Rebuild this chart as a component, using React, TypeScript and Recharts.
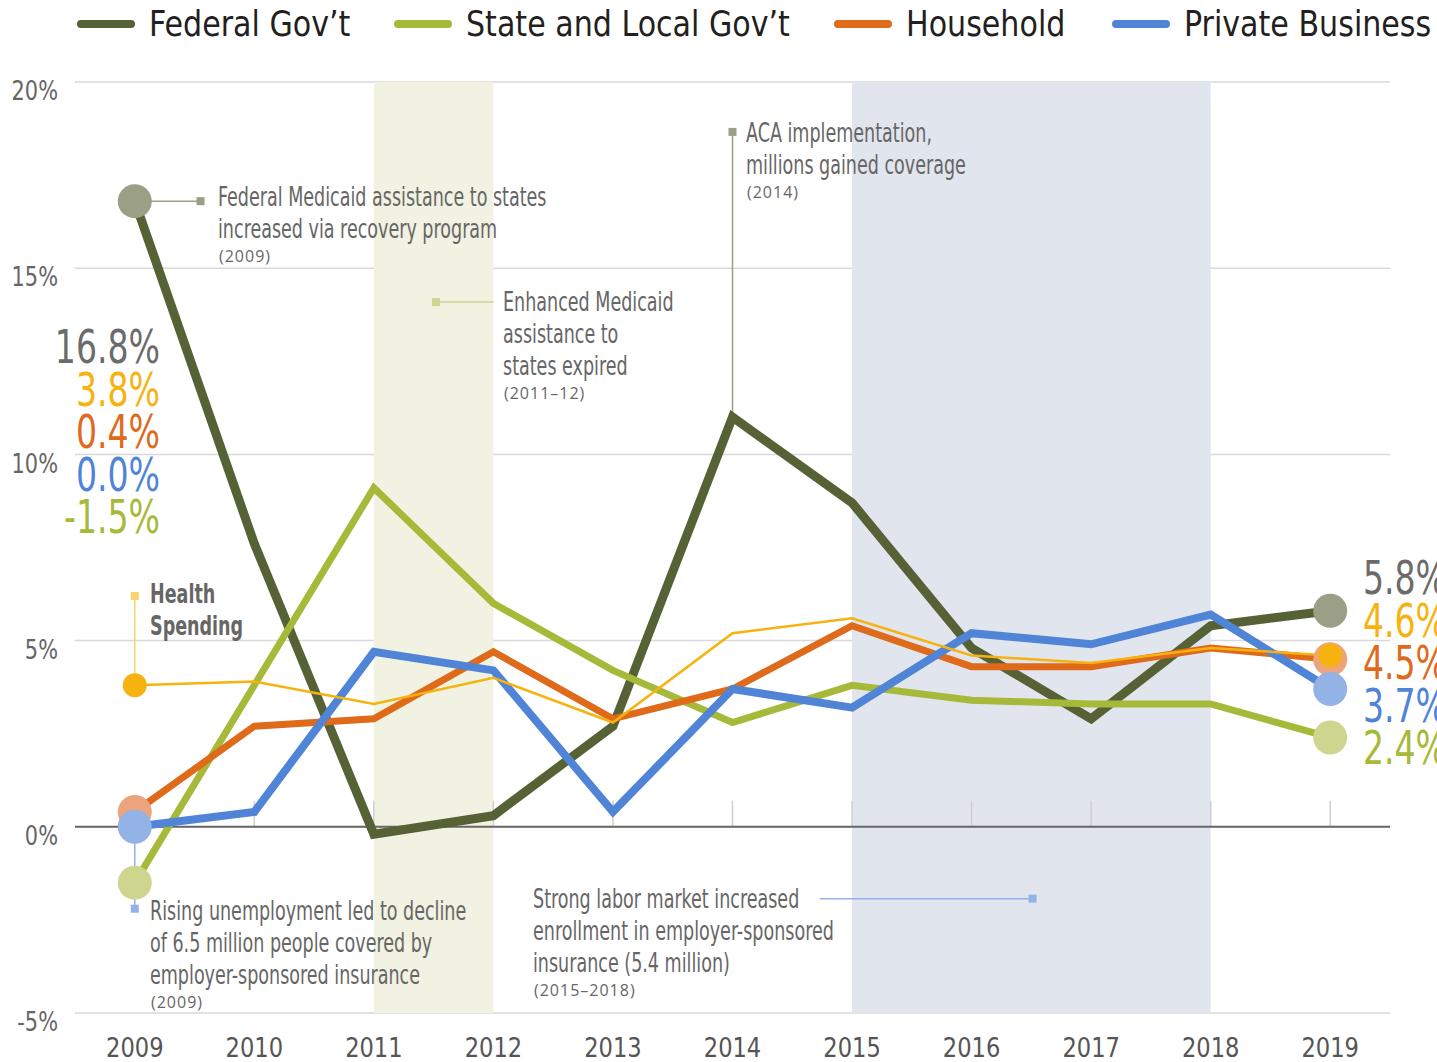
import React from 'react';
import {
  LineChart,
  Line,
  XAxis,
  YAxis,
  CartesianGrid,
  ReferenceArea,
  ReferenceLine,
  ReferenceDot,
} from 'recharts';

// annual growth of health spending by sponsor, 2009-2019 (%)
const years = [2009, 2010, 2011, 2012, 2013, 2014, 2015, 2016, 2017, 2018, 2019];
const federal = [16.8, 7.6, -0.2, 0.3, 2.7, 11.0, 8.7, 4.8, 2.9, 5.4, 5.8];
const stateLocal = [-1.5, 3.8, 9.1, 6.0, 4.2, 2.8, 3.8, 3.4, 3.3, 3.3, 2.4];
const household = [0.4, 2.7, 2.9, 4.7, 2.9, 3.7, 5.4, 4.3, 4.3, 4.8, 4.5];
const privateBiz = [0.0, 0.4, 4.7, 4.2, 0.4, 3.7, 3.2, 5.2, 4.9, 5.7, 3.7];
const healthSpending = [3.8, 3.9, 3.3, 4.0, 2.8, 5.2, 5.6, 4.6, 4.4, 4.8, 4.6];
const yTicks = [-5, 0, 5, 10, 15, 20];

const FONT = "'Liberation Sans Narrow', 'DejaVu Sans Condensed', 'Open Sans', sans-serif";
const TEXT = '#666666';

const series = [
  { key: 'federal', name: 'Federal Gov’t', values: federal, stroke: '#566236', dot: '#9a9f86', width: 9 },
  { key: 'state', name: 'State and Local Gov’t', values: stateLocal, stroke: '#a6b939', dot: '#cdd58e', width: 7 },
  { key: 'household', name: 'Household', values: household, stroke: '#de6a1a', dot: '#eba47c', width: 7 },
  { key: 'private', name: 'Private Business', values: privateBiz, stroke: '#4f84d6', dot: '#93b2e5', width: 8 },
];
const health = { key: 'health', values: healthSpending, stroke: '#f6b30f' };

const rows = years.map((year, i) => ({
  year,
  federal: federal[i],
  state: stateLocal[i],
  household: household[i],
  private: privateBiz[i],
  health: healthSpending[i],
}));

const last = years.length - 1;

// squeezed text, the available sans fonts are wider than the original condensed face
const SText = ({ x, y, sx = 0.76, anchor = 'start', size, fill, weight = 400, children, family = FONT }: any) => (
  <g transform={`translate(${x},${y}) scale(${sx},1)`}>
    <text x={0} y={0} textAnchor={anchor} dominantBaseline="central" fontFamily={family} fontSize={size} fontWeight={weight} fill={fill}>
      {children}
    </text>
  </g>
);

const endDot = (fill: string, r: number) => (props: any) => {
  const { cx, cy, index } = props;
  if (index !== 0 && index !== last) return <g key={`d-${index}`} />;
  return <circle key={`d-${index}`} cx={cx} cy={cy} r={r} fill={fill} />;
};

const square = (fill: string) => (props: any) => (
  <rect x={props.cx - 4} y={props.cy - 4} width={8} height={8} fill={fill} />
);

const XTick = (props: any) => {
  const { x, y, payload } = props;
  return (
    <SText x={x} y={y + 33} sx={0.93} anchor="middle" size={27} fill="#555">
      {payload.value}
    </SText>
  );
};

const YTick = (props: any) => {
  const { x, y, payload } = props;
  return (
    <SText x={x - 15} y={y + 9} sx={0.86} anchor="end" size={27} fill={TEXT}>
      {payload.value}%
    </SText>
  );
};

// value labels at both ends, sorted high to low
const startLabels = [
  { v: federal[0], c: '#6b6b6b' },
  { v: healthSpending[0], c: '#f6b30f' },
  { v: household[0], c: '#de6a1a' },
  { v: privateBiz[0], c: '#4f84d6' },
  { v: stateLocal[0], c: '#a6b939' },
];
const endLabels = [
  { v: federal[last], c: '#6b6b6b' },
  { v: healthSpending[last], c: '#f6b30f' },
  { v: household[last], c: '#de6a1a' },
  { v: privateBiz[last], c: '#4f84d6' },
  { v: stateLocal[last], c: '#a6b939' },
];

const Note = ({ x, y, lines, year, bold }: { x: number; y: number; lines: string[]; year?: string; bold?: boolean }) => (
  <g>
    {lines.map((t, i) => (
      <SText key={i} x={x} y={y + i * 32} sx={0.75} size={26} weight={bold ? 700 : 400} fill={TEXT}>
        {t}
      </SText>
    ))}
    {year && (
      <text x={x + 1} y={y + lines.length * 32 - 5} fontSize={16} letterSpacing={1} fill={TEXT} fontFamily="'Open Sans', sans-serif" dominantBaseline="central">
        {year}
      </text>
    )}
  </g>
);

export default function App() {
  return (
    <div style={{ position: 'absolute', left: 0, top: 0, width: 1437, height: 1062, background: '#fff', overflow: 'hidden' }}>
      <LineChart width={1437} height={1062} data={rows} margin={{ top: 82, right: 47, bottom: 0, left: 0 }}>
        <ReferenceArea x1={2011} x2={2012} y1={-5} y2={20} fill="#f1f2e1" fillOpacity={1} stroke="none" />
        <ReferenceArea x1={2015} x2={2018} y1={-5} y2={20} fill="#e1e5ee" fillOpacity={1} stroke="none" />
        <CartesianGrid horizontal vertical={false} stroke="#d9d9d9" strokeWidth={1.5} />
        <XAxis
          dataKey="year"
          type="number"
          domain={[2008.5, 2019.5]}
          ticks={years}
          height={49}
          axisLine={false}
          tickLine={false}
          tickSize={0}
          tick={<XTick />}
          interval={0}
        />
        <YAxis
          type="number"
          domain={[-5, 20]}
          ticks={yTicks}
          width={75}
          axisLine={false}
          tickLine={false}
          tickSize={0}
          tick={<YTick />}
        />
        {years.map((yr) => (
          <ReferenceLine key={`t${yr}`} segment={[{ x: yr, y: 0 }, { x: yr, y: 0.7 }]} stroke="#cfcfcf" strokeWidth={1.5} />
        ))}
        <ReferenceLine y={0} stroke="#666" strokeWidth={2} />

        {/* annotation leaders */}
        <ReferenceLine segment={[{ x: 2009, y: federal[0] }, { x: 2009.55, y: federal[0] }]} stroke="#9a9f86" strokeWidth={1.5} />
        <ReferenceDot x={2009.55} y={federal[0]} r={4} shape={square('#9a9f86')} />
        <ReferenceLine segment={[{ x: 2014, y: 18.66 }, { x: 2014, y: federal[5] }]} stroke="#9a9f86" strokeWidth={1.5} />
        <ReferenceDot x={2014} y={18.66} r={4} shape={square('#9a9f86')} />
        <ReferenceLine segment={[{ x: 2011.52, y: 14.09 }, { x: 2012, y: 14.09 }]} stroke="#cdd58e" strokeWidth={1.5} />
        <ReferenceDot x={2011.52} y={14.09} r={4} shape={square('#cdd58e')} />
        <ReferenceLine segment={[{ x: 2009, y: 6.2 }, { x: 2009, y: healthSpending[0] }]} stroke="#f9d36a" strokeWidth={1.5} />
        <ReferenceDot x={2009} y={6.2} r={4} shape={square('#f9d36a')} />
        <ReferenceLine segment={[{ x: 2009, y: privateBiz[0] }, { x: 2009, y: -2.2 }]} stroke="#93b2e5" strokeWidth={1.5} />
        <ReferenceDot x={2009} y={-2.2} r={4} shape={square('#93b2e5')} />
        <ReferenceLine segment={[{ x: 2014.73, y: -1.93 }, { x: 2016.51, y: -1.93 }]} stroke="#93b2e5" strokeWidth={1.5} />
        <ReferenceDot x={2016.51} y={-1.93} r={4} shape={square('#93b2e5')} />

        {series.map((s) => (
          <Line
            key={s.key}
            type="linear"
            dataKey={s.key}
            stroke={s.stroke}
            strokeWidth={s.width}
            dot={endDot(s.dot, 17)}
            activeDot={false}
            isAnimationActive={false}
          />
        ))}
        <Line
          type="linear"
          dataKey={health.key}
          stroke={health.stroke}
          strokeWidth={2.5}
          dot={endDot(health.stroke, 12)}
          activeDot={false}
          isAnimationActive={false}
        />
      </LineChart>

      <svg width={1437} height={1062} style={{ position: 'absolute', left: 0, top: 0, pointerEvents: 'none' }}>
        {/* legend */}
        {series.map((s, i) => {
          const lx = [77, 394, 834, 1112][i];
          return (
            <g key={s.key}>
              <line x1={lx + 4} x2={lx + 54} y1={24} y2={24} stroke={s.stroke} strokeWidth={8} strokeLinecap="round" />
              <SText x={lx + 72} y={24} sx={0.93} size={36} fill="#231f20">
                {s.name}
              </SText>
            </g>
          );
        })}

        {startLabels.map((l, i) => (
          <SText key={`s${i}`} x={160} y={347 + i * 42.5} sx={0.8} anchor="end" size={46} fill={l.c}>
            {l.v.toFixed(1)}%
          </SText>
        ))}
        {endLabels.map((l, i) => (
          <SText key={`e${i}`} x={1363} y={578 + i * 42.5} sx={0.8} size={46} fill={l.c}>
            {l.v.toFixed(1)}%
          </SText>
        ))}

        <Note x={218} y={197} lines={['Federal Medicaid assistance to states', 'increased via recovery program']} year="(2009)" />
        <Note x={746} y={133} lines={['ACA implementation,', 'millions gained coverage']} year="(2014)" />
        <Note x={503} y={302} lines={['Enhanced Medicaid', 'assistance to', 'states expired']} year="(2011–12)" />
        <Note x={150} y={594} lines={['Health', 'Spending']} bold />
        <Note x={150} y={911} lines={['Rising unemployment led to decline', ' of 6.5 million people covered by', ' employer-sponsored insurance']} year="(2009)" />
        <Note x={533} y={899} lines={['Strong labor market increased', 'enrollment in employer-sponsored', 'insurance (5.4 million)']} year="(2015–2018)" />
      </svg>
    </div>
  );
}
